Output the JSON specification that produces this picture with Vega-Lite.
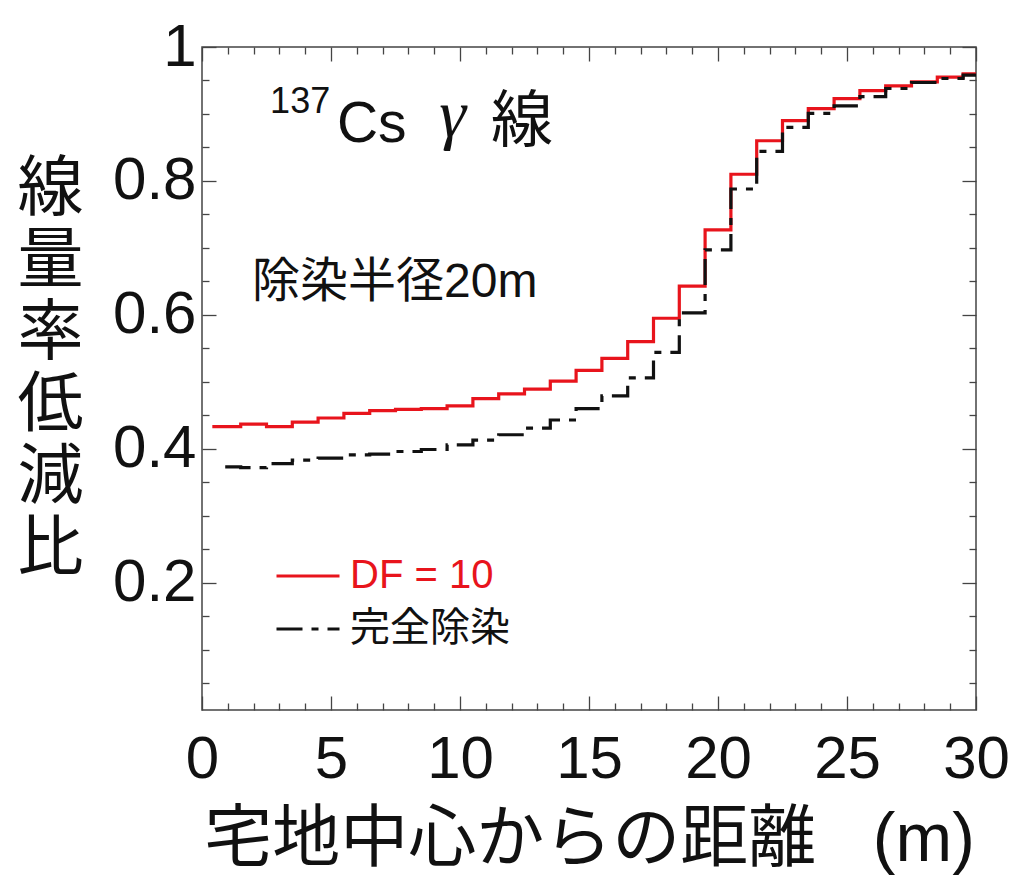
{
  "$schema": "https://vega.github.io/schema/vega-lite/v6.json",
  "width": 774,
  "height": 663,
  "autosize": "none",
  "padding": {"left": 202, "top": 47, "right": 37, "bottom": 167},
  "background": "white",
  "config": {
    "view": {"stroke": "#444", "strokeWidth": 1.5},
    "axis": {"domain": false, "grid": false, "labelFont": "Liberation Sans", "titleFont": "Liberation Sans, Noto Sans CJK JP", "tickColor": "#444", "tickWidth": 1.3, "labelColor": "#111", "titleColor": "#111", "labelOverlap": false, "labelFlush": false, "titleFontWeight": "normal"},
    "text": {"font": "Liberation Sans, Noto Sans CJK JP", "color": "#111"}
  },
  "resolve": {"axis": {"x": "independent", "y": "independent"}},
  "layer": [
    {
      "data": {"values": [
        {"series": "DF = 10", "distance": 0.4, "ratio": 0.433},
        {"series": "DF = 10", "distance": 1.5, "ratio": 0.437},
        {"series": "DF = 10", "distance": 2.5, "ratio": 0.433},
        {"series": "DF = 10", "distance": 3.5, "ratio": 0.440},
        {"series": "DF = 10", "distance": 4.5, "ratio": 0.446},
        {"series": "DF = 10", "distance": 5.5, "ratio": 0.453},
        {"series": "DF = 10", "distance": 6.5, "ratio": 0.457},
        {"series": "DF = 10", "distance": 7.5, "ratio": 0.459},
        {"series": "DF = 10", "distance": 8.5, "ratio": 0.460},
        {"series": "DF = 10", "distance": 9.5, "ratio": 0.464},
        {"series": "DF = 10", "distance": 10.5, "ratio": 0.475},
        {"series": "DF = 10", "distance": 11.5, "ratio": 0.482},
        {"series": "DF = 10", "distance": 12.5, "ratio": 0.489},
        {"series": "DF = 10", "distance": 13.5, "ratio": 0.501},
        {"series": "DF = 10", "distance": 14.5, "ratio": 0.517},
        {"series": "DF = 10", "distance": 15.5, "ratio": 0.535},
        {"series": "DF = 10", "distance": 16.5, "ratio": 0.560},
        {"series": "DF = 10", "distance": 17.5, "ratio": 0.595},
        {"series": "DF = 10", "distance": 18.5, "ratio": 0.643},
        {"series": "DF = 10", "distance": 19.5, "ratio": 0.727},
        {"series": "DF = 10", "distance": 20.5, "ratio": 0.810},
        {"series": "DF = 10", "distance": 21.5, "ratio": 0.860},
        {"series": "DF = 10", "distance": 22.5, "ratio": 0.890},
        {"series": "DF = 10", "distance": 23.5, "ratio": 0.908},
        {"series": "DF = 10", "distance": 24.5, "ratio": 0.923},
        {"series": "DF = 10", "distance": 25.5, "ratio": 0.935},
        {"series": "DF = 10", "distance": 26.5, "ratio": 0.942},
        {"series": "DF = 10", "distance": 27.5, "ratio": 0.948},
        {"series": "DF = 10", "distance": 28.5, "ratio": 0.955},
        {"series": "DF = 10", "distance": 29.5, "ratio": 0.960},
        {"series": "DF = 10", "distance": 30, "ratio": 0.960},
        {"series": "完全除染", "distance": 0.9, "ratio": 0.373},
        {"series": "完全除染", "distance": 1.5, "ratio": 0.372},
        {"series": "完全除染", "distance": 2.5, "ratio": 0.378},
        {"series": "完全除染", "distance": 3.5, "ratio": 0.383},
        {"series": "完全除染", "distance": 4.5, "ratio": 0.386},
        {"series": "完全除染", "distance": 5.5, "ratio": 0.391},
        {"series": "完全除染", "distance": 6.5, "ratio": 0.392},
        {"series": "完全除染", "distance": 7.5, "ratio": 0.396},
        {"series": "完全除染", "distance": 8.5, "ratio": 0.399},
        {"series": "完全除染", "distance": 9.5, "ratio": 0.406},
        {"series": "完全除染", "distance": 10.5, "ratio": 0.413},
        {"series": "完全除染", "distance": 11.5, "ratio": 0.421},
        {"series": "完全除染", "distance": 12.5, "ratio": 0.431},
        {"series": "完全除染", "distance": 13.5, "ratio": 0.443},
        {"series": "完全除染", "distance": 14.5, "ratio": 0.460},
        {"series": "完全除染", "distance": 15.5, "ratio": 0.479},
        {"series": "完全除染", "distance": 16.5, "ratio": 0.506},
        {"series": "完全除染", "distance": 17.5, "ratio": 0.544},
        {"series": "完全除染", "distance": 18.5, "ratio": 0.603},
        {"series": "完全除染", "distance": 19.5, "ratio": 0.697},
        {"series": "完全除染", "distance": 20.5, "ratio": 0.788},
        {"series": "完全除染", "distance": 21.5, "ratio": 0.844},
        {"series": "完全除染", "distance": 22.5, "ratio": 0.880},
        {"series": "完全除染", "distance": 23.5, "ratio": 0.901},
        {"series": "完全除染", "distance": 24.5, "ratio": 0.912},
        {"series": "完全除染", "distance": 25.5, "ratio": 0.926},
        {"series": "完全除染", "distance": 26.5, "ratio": 0.938},
        {"series": "完全除染", "distance": 27.5, "ratio": 0.947},
        {"series": "完全除染", "distance": 28.5, "ratio": 0.953},
        {"series": "完全除染", "distance": 29.5, "ratio": 0.958},
        {"series": "完全除染", "distance": 30, "ratio": 0.958}
      ]},
      "mark": {"type": "line", "interpolate": "step-after", "strokeWidth": 3.2},
      "encoding": {
        "x": {
          "field": "distance", "type": "quantitative",
          "scale": {"domain": [0, 30], "nice": false, "zero": false},
          "axis": {
            "orient": "bottom",
            "values": [0,1,2,3,4,5,6,7,8,9,10,11,12,13,14,15,16,17,18,19,20,21,22,23,24,25,26,27,28,29,30],
            "labelExpr": "datum.value % 5 === 0 ? datum.label : ''",
            "tickSize": {"condition": {"test": "datum.value % 5 === 0", "value": -14}, "value": -7},
            "labelFontSize": 60,
            "labelPadding": 34,
            "labelBaseline": "top",
            "title": "宅地中心からの距離\u00a0\u00a0\u00a0(m)",
            "titleFontSize": 68,
            "titleX": 387,
            "titleY": 150,
            "titleAlign": "center",
            "titleBaseline": "alphabetic"
          }
        },
        "y": {
          "field": "ratio", "type": "quantitative",
          "scale": {"domain": [0.01, 1], "nice": false, "zero": false},
          "axis": {
            "orient": "left",
            "values": [0.05,0.1,0.15,0.2,0.25,0.3,0.35,0.4,0.45,0.5,0.55,0.6,0.65,0.7,0.75,0.8,0.85,0.9,0.95,1],
            "labelExpr": "abs(datum.value*5 - round(datum.value*5)) < 0.001 ? format(datum.value, '.2~f') : ''",
            "tickSize": {"condition": {"test": "abs(datum.value*5 - round(datum.value*5)) < 0.001", "value": -14}, "value": -7},
            "labelFontSize": 60,
            "labelPadding": 20,
            "title": ["線","量","率","低","減","比"],
            "titleFont": "Noto Sans CJK JP",
            "titleAngle": 0,
            "titleFontSize": 66,
            "titleLineHeight": 72,
            "titleX": -152,
            "titleY": 142,
            "titleAlign": "center",
            "titleBaseline": "middle"
          }
        },
        "color": {
          "field": "series", "type": "nominal",
          "scale": {"domain": ["DF = 10", "完全除染"], "range": ["#e8141c", "#111111"]},
          "legend": {
            "orient": "none", "legendX": 73, "legendY": 496, "title": null,
            "symbolType": "stroke", "symbolSize": 3969, "symbolStrokeWidth": 3,
            "labelFontSize": 40, "labelFont": "Liberation Sans, Noto Sans CJK JP",
            "labelOffset": 9, "rowPadding": 0, "padding": 0, "labelLimit": 400,
            "labelColor": {"expr": "datum.value === '完全除染' ? '#111111' : '#e8141c'"}
          }
        },
        "strokeDash": {
          "field": "series", "type": "nominal",
          "scale": {"domain": ["DF = 10", "完全除染"], "range": [[1, 0], [26, 9, 7, 9]]}
        }
      }
    },
    {
      "data": {"values": [{}]},
      "mark": {"type": "text", "text": "137", "fontSize": 36, "align": "left", "baseline": "alphabetic"},
      "encoding": {
        "x": {"datum": 2.64, "type": "quantitative", "axis": {
          "orient": "top", "title": null, "labels": false,
          "values": [0,1,2,3,4,5,6,7,8,9,10,11,12,13,14,15,16,17,18,19,20,21,22,23,24,25,26,27,28,29,30],
          "tickSize": {"condition": {"test": "datum.value % 5 === 0", "value": -14}, "value": -7}
        }},
        "y": {"datum": 0.901, "type": "quantitative", "axis": {
          "orient": "right", "title": null, "labels": false,
          "values": [0.05,0.1,0.15,0.2,0.25,0.3,0.35,0.4,0.45,0.5,0.55,0.6,0.65,0.7,0.75,0.8,0.85,0.9,0.95,1],
          "tickSize": {"condition": {"test": "abs(datum.value*5 - round(datum.value*5)) < 0.001", "value": -14}, "value": -7}
        }}
      }
    },
    {
      "data": {"values": [{}]},
      "mark": {"type": "text", "text": "Cs", "fontSize": 57, "align": "left", "baseline": "alphabetic"},
      "encoding": {
        "x": {"datum": 5.23, "type": "quantitative", "axis": null},
        "y": {"datum": 0.858, "type": "quantitative", "axis": null}
      }
    },
    {
      "data": {"values": [{}]},
      "mark": {"type": "text", "text": "γ", "font": "Liberation Serif", "fontStyle": "italic", "fontSize": 68, "align": "left", "baseline": "alphabetic"},
      "encoding": {
        "x": {"datum": 9.2, "type": "quantitative", "axis": null},
        "y": {"datum": 0.866, "type": "quantitative", "axis": null}
      }
    },
    {
      "data": {"values": [{}]},
      "mark": {"type": "text", "text": "線", "font": "Noto Sans CJK JP", "fontSize": 62, "align": "left", "baseline": "alphabetic"},
      "encoding": {
        "x": {"datum": 11.2, "type": "quantitative", "axis": null},
        "y": {"datum": 0.858, "type": "quantitative", "axis": null}
      }
    },
    {
      "data": {"values": [{}]},
      "mark": {"type": "text", "text": "除染半径20m", "fontSize": 48, "align": "left", "baseline": "alphabetic"},
      "encoding": {
        "x": {"datum": 1.94, "type": "quantitative", "axis": null},
        "y": {"datum": 0.627, "type": "quantitative", "axis": null}
      }
    }
  ]
}
